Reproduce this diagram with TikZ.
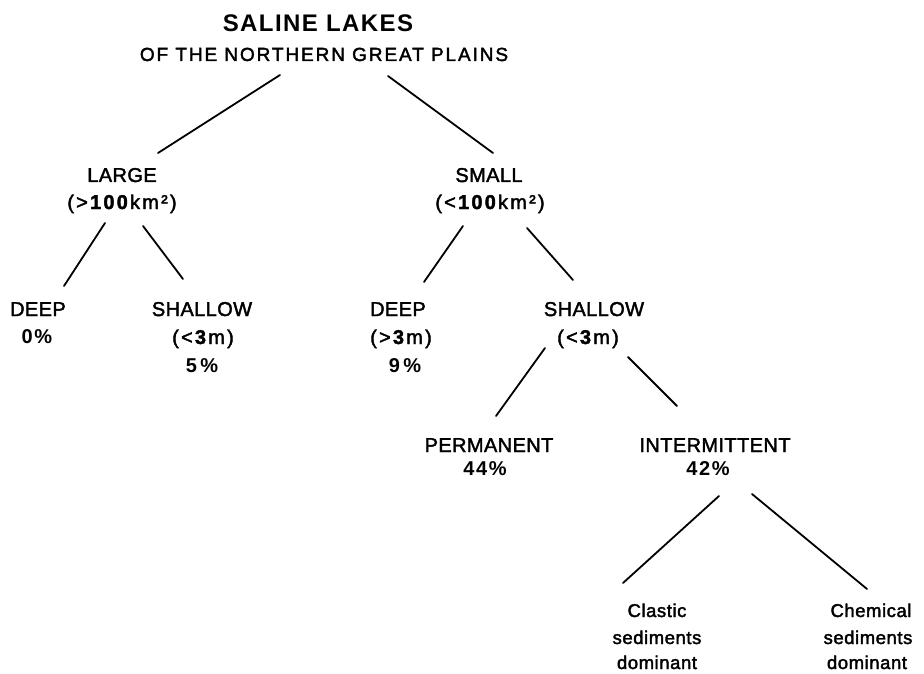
\documentclass[tikz,border=0pt]{standalone}
\usepackage{fontspec}
\setmainfont{Liberation Sans}
\newfontfamily\fTitle[LetterSpace=6]{Liberation Sans}
\newfontfamily\fSub[LetterSpace=10,FakeBold=2]{Liberation Sans}
\newfontfamily\fLab[LetterSpace=2,FakeBold=2]{Liberation Sans}
\newfontfamily\fPar[LetterSpace=11,FakeBold=2]{Liberation Sans}
\newfontfamily\fPct[LetterSpace=8]{Liberation Sans}
\newfontfamily\fLow[LetterSpace=3,FakeBold=2]{Liberation Sans}
\begin{document}
\begin{tikzpicture}[x=1pt,y=-1pt,
  txt/.style={anchor=base,inner sep=0pt,outer sep=0pt},
  ttl/.style={txt,font=\fTitle\bfseries\fontsize{24}{24}\selectfont},
  sub/.style={txt,font=\fSub\fontsize{19}{19}\selectfont},
  lab/.style={txt,font=\fLab\fontsize{20}{20}\selectfont},
  par/.style={txt,font=\fPar\fontsize{20}{20}\selectfont},
  pct/.style={txt,font=\fPct\bfseries\fontsize{20}{20}\selectfont},
  low/.style={txt,font=\fLow\fontsize{18.5}{18.5}\selectfont},
  conn/.style={line width=1.8pt,line cap=round}]
\useasboundingbox[fill=white] (0,0) rectangle (924,674);
% texts
\node[ttl] (title) at (318,32) {SALINE LAKES};
\node[sub] (subt) at (324,61) {OF THE NORTHERN GREAT PLAINS};
\node[lab] (large) at (122,182) {LARGE};
\node[par] (large2) at (122,209) {(>\textbf{100}km²)};
\node[lab] (ldeep) at (38,316) {DEEP};
\node[pct] (ldeep2) at (37,343) {0\%};
\node[lab] (lshal) at (202,316) {SHALLOW};
\node[par] (lshal2) at (203,344) {(<\textbf{3}m)};
\node[pct] (lshal3) at (202,372) {5\,\%};
\node[lab] (small) at (489,182) {SMALL};
\node[par] (small2) at (490,209) {(<\textbf{100}km²)};
\node[lab] (sdeep) at (398,316) {DEEP};
\node[par] (sdeep2) at (401,344) {(>\textbf{3}m)};
\node[pct] (sdeep3) at (405,372) {9\,\%};
\node[lab] (sshal) at (594,316) {SHALLOW};
\node[par] (sshal2) at (588,344) {(<\textbf{3}m)};
\node[lab] (perm) at (489,452) {PERMANENT};
\node[pct] (perm2) at (485,475) {44\%};
\node[lab] (inter) at (715,452) {INTERMITTENT};
\node[pct] (inter2) at (708,475) {42\%};
\node[low] (clas1) at (657,617) {Clastic};
\node[low] (clas2) at (657,644) {sediments};
\node[low] (clas3) at (657,669) {dominant};
\node[low] (chem1) at (871,617) {Chemical};
\node[low] (chem2) at (868,644) {sediments};
\node[low] (chem3) at (867,669) {dominant};
% connector ends
\coordinate (t-a) at (280,75);  \coordinate (large-t) at (158,153);
\coordinate (t-b) at (388,76);  \coordinate (small-t) at (493,153);
\coordinate (large-a) at (105,223); \coordinate (ldeep-t) at (64,286);
\coordinate (large-b) at (143,226); \coordinate (lshal-t) at (183,279);
\coordinate (small-a) at (463,226); \coordinate (sdeep-t) at (424,282);
\coordinate (small-b) at (527,228); \coordinate (sshal-t) at (573,280);
\coordinate (sshal-a) at (545,348); \coordinate (perm-t) at (496,416);
\coordinate (sshal-b) at (628,357); \coordinate (inter-t) at (677,406);
\coordinate (inter-a) at (719,496); \coordinate (clas-t) at (623,583);
\coordinate (inter-b) at (752,494); \coordinate (chem-t) at (867,589);
\draw[conn] (t-a) -- (large-t);
\draw[conn] (t-b) -- (small-t);
\draw[conn] (large-a) -- (ldeep-t);
\draw[conn] (large-b) -- (lshal-t);
\draw[conn] (small-a) -- (sdeep-t);
\draw[conn] (small-b) -- (sshal-t);
\draw[conn] (sshal-a) -- (perm-t);
\draw[conn] (sshal-b) -- (inter-t);
\draw[conn] (inter-a) -- (clas-t);
\draw[conn] (inter-b) -- (chem-t);
\end{tikzpicture}
\end{document}
